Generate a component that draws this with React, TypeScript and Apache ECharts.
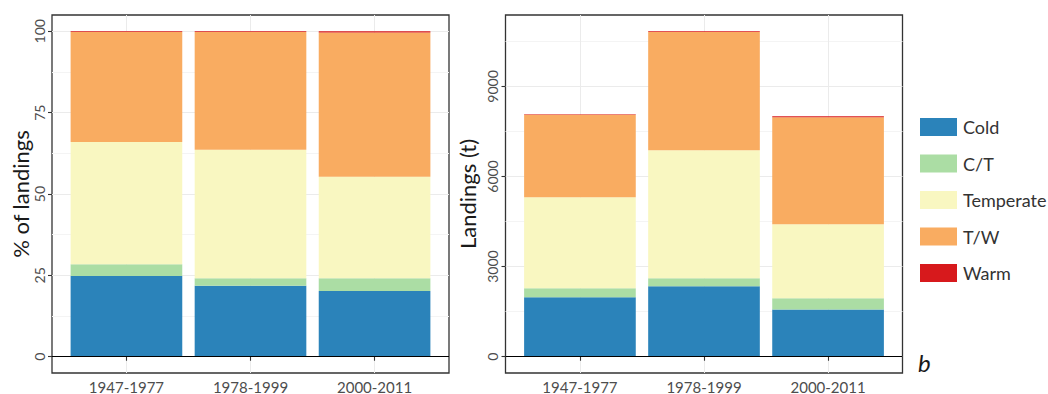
import React, { useEffect, useRef } from "react";
import * as echarts from "echarts";

// Periods and thermal-affinity groups
const categories = ["1947-1977", "1978-1999", "2000-2011"];
const groupNames = ["Cold", "C/T", "Temperate", "T/W", "Warm"];
const groupColors = ["#2B83BA", "#ABDDA4", "#F9F7C1", "#F9AC61", "#D7191C"];

// Share of landings (%) per period
const pctCold = [24.8, 21.8, 20.2];
const pctCT = [3.6, 2.3, 3.9];
const pctTemperate = [37.6, 39.5, 31.2];
const pctTW = [33.8, 36.2, 44.3];
const pctWarm = [0.2, 0.2, 0.4];

// Landings (t) per period
const tCold = [1980, 2345, 1575];
const tCT = [300, 265, 370];
const tTemperate = [3030, 4265, 2465];
const tTW = [2745, 3935, 3565];
const tWarm = [20, 25, 30];

// Axis ticks
const pctTicks = [0, 25, 50, 75, 100];
const pctMinor = [12.5, 37.5, 62.5, 87.5];
const tTicks = [0, 3000, 6000, 9000];
const tMinor = [1500, 4500, 7500, 10500];

const FONT = "Lato";

// Panel frames (plot area incl. ggplot-style expansion)
const FRAME_TOP = 15;
const FRAME_H = 358;
const FRAME_W = 397;
const FRAME_LEFT = [52, 505.5];
// discrete axis: 0.6 unit padding on each side, 3.2 units across the frame
const UNIT = FRAME_W / 3.2;

// Each panel uses two grids: index 2p is the framed panel (gridlines, ticks,
// labels), index 2p+1 is the inner band grid holding the stacked bars.
function framedGrid(p: number) {
  return {
    left: FRAME_LEFT[p],
    top: FRAME_TOP,
    width: FRAME_W,
    height: FRAME_H,
    show: true,
    borderColor: "#333",
    borderWidth: 1.3,
    backgroundColor: "transparent",
  };
}

function barGrid(p: number) {
  return {
    left: FRAME_LEFT[p] + UNIT * 0.1,
    top: FRAME_TOP,
    width: UNIT * 3,
    height: FRAME_H,
    show: false,
  };
}

function frameXAxis(p: number) {
  const ticks = [1, 2, 3];
  return {
    type: "value",
    gridIndex: 2 * p,
    min: 0.4,
    max: 3.6,
    axisLine: { show: false },
    axisTick: {
      show: true,
      customValues: ticks,
      length: 4,
      lineStyle: { color: "#333", width: 1.1 },
    },
    axisLabel: {
      customValues: ticks,
      formatter: (v: number) => categories[Math.round(v) - 1] ?? "",
      color: "#4D4D4D",
      fontFamily: FONT,
      fontSize: 15,
      margin: 6,
    },
    splitLine: { show: true, lineStyle: { color: "#EBEBEB", width: 1 } },
  };
}

function barXAxis(p: number) {
  return {
    type: "category",
    gridIndex: 2 * p + 1,
    data: categories,
    show: false,
  };
}

function yAxesFor(
  p: number,
  min: number,
  max: number,
  ticks: number[],
  minor: number[],
  title: string,
  nameGap: number
) {
  return [
    {
      type: "value",
      gridIndex: 2 * p,
      min,
      max,
      name: title,
      nameLocation: "middle",
      nameGap,
      nameTextStyle: { color: "#1A1A1A", fontFamily: FONT, fontSize: 22 },
      axisLine: { show: false },
      axisTick: {
        show: true,
        customValues: ticks,
        length: 4,
        lineStyle: { color: "#333", width: 1.1 },
      },
      axisLabel: {
        customValues: ticks,
        rotate: 90,
        formatter: (v: number) => String(v),
        color: "#4D4D4D",
        fontFamily: FONT,
        fontSize: 14,
        margin: 6,
      },
      splitLine: { show: true, lineStyle: { color: "#EBEBEB", width: 1 } },
    },
    {
      type: "value",
      gridIndex: 2 * p,
      min,
      max,
      axisLine: { show: false },
      axisTick: { show: false, customValues: minor },
      axisLabel: { show: false, customValues: minor },
      splitLine: { show: true, lineStyle: { color: "#F4F4F4", width: 1 } },
    },
    {
      type: "value",
      gridIndex: 2 * p + 1,
      min,
      max,
      show: false,
      splitLine: { show: false },
    },
  ];
}

function buildSeries(p: number, groups: number[][]) {
  return groups.map((vals, i) => ({
    type: "bar",
    name: groupNames[i],
    xAxisIndex: 2 * p + 1,
    yAxisIndex: 3 * p + 2,
    stack: "panel" + p,
    barWidth: "90%",
    itemStyle: { color: groupColors[i] },
    data: vals,
  }));
}

// Horizontal reference line at zero across the whole frame
function zeroLine(p: number) {
  return {
    type: "line",
    name: "zero" + p,
    xAxisIndex: 2 * p,
    yAxisIndex: 3 * p,
    data: [],
    z: 5,
    silent: true,
    markLine: {
      silent: true,
      symbol: "none",
      label: { show: false },
      lineStyle: { color: "#000", width: 1, type: "solid" },
      data: [{ yAxis: 0 }],
    },
  };
}

export default function App() {
  const ref = useRef<HTMLDivElement>(null);

  useEffect(() => {
    document.body.style.margin = "0";
    if (!ref.current) return;
    const chart = echarts.init(ref.current, null, { renderer: "svg" });

    const option = {
      animation: false,
      textStyle: { fontFamily: FONT },
      grid: [framedGrid(0), barGrid(0), framedGrid(1), barGrid(1)],
      xAxis: [frameXAxis(0), barXAxis(0), frameXAxis(1), barXAxis(1)],
      yAxis: [
        ...yAxesFor(0, -5, 105, pctTicks, pctMinor, "% of landings", 19),
        ...yAxesFor(1, -542, 11377, tTicks, tMinor, "Landings (t)", 27),
      ],
      legend: {
        orient: "vertical",
        left: 920,
        top: 118,
        padding: 0,
        icon: "rect",
        itemWidth: 37,
        itemHeight: 18,
        itemGap: 18.5,
        data: groupNames,
        textStyle: {
          color: "#333",
          fontFamily: FONT,
          fontSize: 18,
          lineHeight: 18,
          padding: [0, 0, 0, 1],
        },
        selectedMode: false,
      },
      graphic: [
        {
          type: "text",
          left: 918,
          top: 350,
          style: {
            text: "b",
            fontFamily: FONT,
            fontStyle: "italic",
            fontSize: 24,
            fill: "#1A1A1A",
          },
        },
      ],
      series: [
        ...buildSeries(0, [pctCold, pctCT, pctTemperate, pctTW, pctWarm]),
        ...buildSeries(1, [tCold, tCT, tTemperate, tTW, tWarm]),
        zeroLine(0),
        zeroLine(1),
      ],
    };

    chart.setOption(option as any);
    return () => chart.dispose();
  }, []);

  return <div ref={ref} style={{ width: 1048, height: 394 }} />;
}
